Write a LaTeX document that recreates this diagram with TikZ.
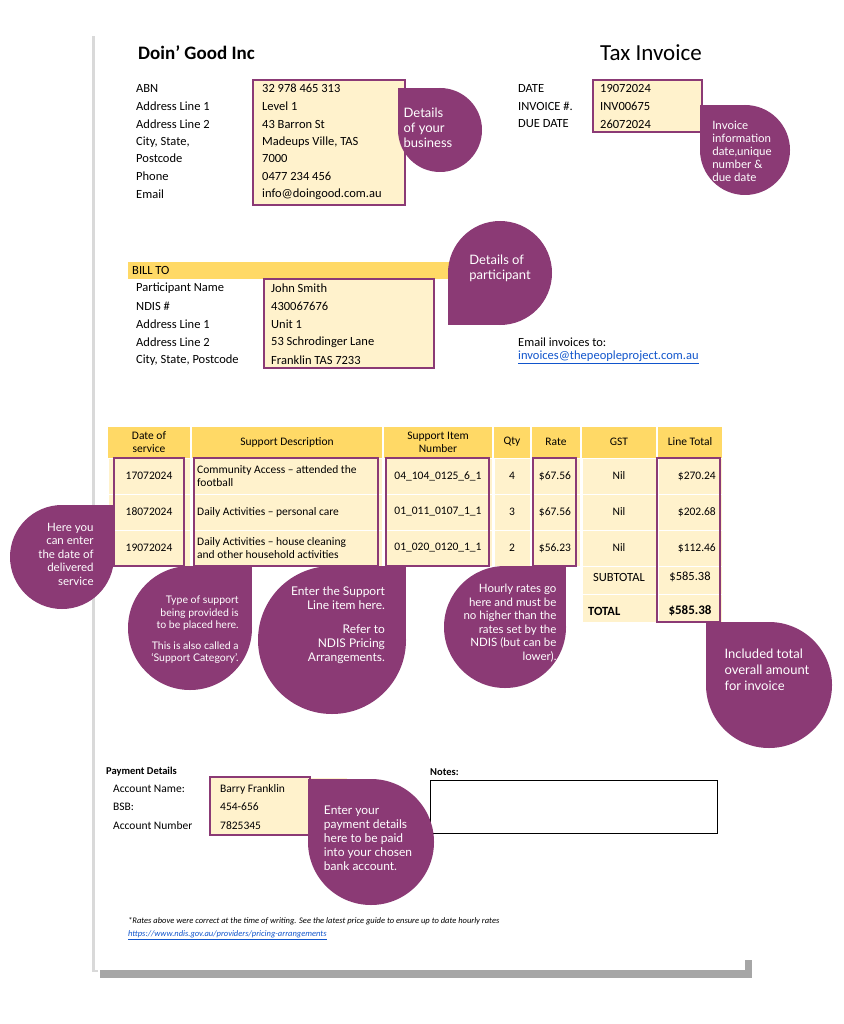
\documentclass[tikz,border=0pt]{standalone}
\usepackage{fontspec}
\setmainfont{Carlito}
\newfontfamily\bubfont{Lato}
\definecolor{pur}{HTML}{8B3A75}
\definecolor{lt}{HTML}{FFF2CC}
\definecolor{yl}{HTML}{FFD966}
\definecolor{lnk}{HTML}{1155CC}
\newcommand\bub[5]{% name cx cy r dir
 \fill[pur] (#2,#3) circle (#4);
 \fill[pur] (#2,#3) rectangle ++(#5);}
\begin{document}
\begin{tikzpicture}[x=1pt,y=-1pt,
 lb/.style={anchor=west,inner sep=0pt,font=\fontsize{12.5}{14}\selectfont},
 tb/.style={inner sep=0pt,font=\fontsize{11.5}{13}\selectfont,align=center},
 bt/.style={text=white,inner sep=0pt,font=\bubfont\fontsize{13}{15}\selectfont},
 pbox/.style={draw=pur,line width=1.6pt},
 cell/.style={fill=lt,draw=white,line width=0.6pt}]
\useasboundingbox (0,0) rectangle (843,1024);
\fill[white] (0,0) rectangle (843,1024);
% sheet with shadow
\fill[black!35] (100,960) rectangle (752,978);
\fill[black!15] (92,36) rectangle (98,972);
\fill[white] (95,30) rectangle (745,970);
% header
\node[anchor=west,inner sep=0pt,font=\fontsize{19}{22}\selectfont\bfseries] (co) at (138,53) {Doin’ Good Inc};
\node[anchor=east,inner sep=0pt,font=\fontsize{23}{26}\selectfont] (ti) at (702,53) {Tax Invoice};
% business
\fill[lt] (253,80) rectangle (405,205);
\foreach \y/\l in {88/ABN,106/Address Line 1,124/Address Line 2,142/{City, State,},158/Postcode,176/Phone/Mobile,194/Email}
  \node[lb] at (136,\y) {\l};
\foreach \y/\l in {88/32 978 465 313,106/Level 1,124/43 Barron St,142/{Madeups Ville, TAS},158/7000,176/0477 234 456,194/info@doingood.com.au}
  \node[lb] at (262,\y) {\l};
\draw[pbox] (253,80) rectangle (405,205);
% invoice info
\fill[lt] (593,80) rectangle (702,132);
\foreach \y/\l/\v in {88/DATE/19\/07\/2024,106/INVOICE \#./INV00675,124/DUE DATE/26\/07\/2024}{
  \node[lb] at (518,\y) {\l};
  \node[lb] at (600,\y) {\v};}
\draw[pbox] (593,80) rectangle (702,132);
% bill to
\fill[yl] (128,262) rectangle (470,279);
\node[lb] (billto) at (132,270) {BILL TO};
\fill[lt] (264,279) rectangle (434,368);
\foreach \y/\l/\v in {288/Participant Name/John Smith,306/NDIS \#/430067676,324/Address Line 1/Unit 1,342/Address Line 2/53 Schrodinger Lane,360/{City, State, Postcode}/Franklin TAS 7233}{
  \node[lb] at (136,\y) {\l};
  \node[lb] at (271,\y) {\v};}
\draw[pbox] (264,279) rectangle (434,368);
\node[lb] (em) at (518,342) {Email invoices to:};
\node[lb,text=lnk] (eml) at (518,357) {\underline{invoices@thepeopleproject.com.au}};
% table header
\foreach \a/\b/\t in {107/191/{Date of\\service},191/383/Support Description,383/493/{Support Item\\Number},493/531/Qty,531/581/Rate,581/657/GST,657/723/Line Total}{
  \fill[yl] (\a+1,427) rectangle (\b-1,458);
  \node[tb] at ({(\a+\b)/2},442) {\t};}
% rows
\foreach \a/\b in {107/191,191/383,383/493,493/531,531/581,581/657,657/723}
  \foreach \r in {458,494,530}
    \draw[cell] (\a+1,\r) rectangle (\b-1,\r+36);
\foreach \r in {566,594}{
  \draw[cell] (582,\r) rectangle (656,\r+28);
  \draw[cell] (658,\r) rectangle (722,\r+28);}
\foreach \y/\d/\s/\i/\q/\ra/\t in {476/17\/07\/2024/{Community Access -- attended the\\football}/04\_104\_0125\_6\_1/4/\$67.56/\$270.24,
 512/18\/07\/2024/{Daily Activities -- personal care}/01\_011\_0107\_1\_1/3/\$67.56/\$202.68,
 548/19\/07\/2024/{Daily Activities -- house cleaning\\and other household activities}/01\_020\_0120\_1\_1/2/\$56.23/\$112.46}{
  \node[tb] at (149,\y) {\d};
  \node[tb,anchor=west,align=left] at (197,\y) {\s};
  \node[tb] at (438,\y) {\i};
  \node[tb] at (512,\y) {\q};
  \node[tb] at (555,\y) {\ra};
  \node[tb] at (619,\y) {Nil};
  \node[tb,anchor=east] at (716,\y) {\t};}
\node[tb,font=\fontsize{12.5}{14}\selectfont] (sub) at (619,577) {SUBTOTAL};
\node[tb,font=\fontsize{12.5}{14}\selectfont] (subv) at (690,577) {\$585.38};
\node[tb,anchor=west,font=\fontsize{12.5}{14}\selectfont\bfseries] (tot) at (588,611) {TOTAL};
\node[tb,font=\fontsize{13}{14}\selectfont\bfseries] (totv) at (690,611) {\$585.38};
\draw[pbox] (114,458) rectangle (184,566);
\draw[pbox] (194,458) rectangle (378,566);
\draw[pbox] (386,458) rectangle (489,566);
\draw[pbox] (533,458) rectangle (576,566);
\draw[pbox] (657,458) rectangle (720,622);
% payment
\node[anchor=west,inner sep=0pt,font=\fontsize{10.5}{12}\selectfont\bfseries] (pd) at (106,772) {Payment Details};
\fill[lt] (210,778) rectangle (347,835);
\foreach \y/\l/\v in {789/Account Name:/Barry Franklin,807/BSB:/454-656,826/Account Number/7825345}{
  \node[lb,font=\fontsize{11.5}{13}\selectfont] at (113,\y) {\l};
  \node[lb,font=\fontsize{11.5}{13}\selectfont] at (220,\y) {\v};}
\draw[pbox] (210,777) rectangle (310,835);
\node[anchor=west,inner sep=0pt,font=\fontsize{10.5}{12}\selectfont\bfseries] (nt) at (430,772) {Notes:};
\draw[black,line width=0.8pt] (430,780) rectangle (717,833);
% footnote
\node[anchor=west,inner sep=0pt,font=\fontsize{8.5}{10}\selectfont\itshape] (fn) at (128,921) {*Rates above were correct at the time of writing. See the latest price guide to ensure up to date hourly rates};
\node[anchor=west,inner sep=0pt,text=lnk,font=\fontsize{8.5}{10}\selectfont\itshape] (fl) at (128,935) {\underline{https://www.ndis.gov.au/providers/pricing-arrangements}};
% bubbles
\bub{b1}{440}{130}{42}{-42,-42}
\node[bt,align=left] (t1) at (428,128) {Details\\of your\\business};
\bub{b2}{745}{150}{45}{-45,-45}
\node[bt,align=left,font=\bubfont\fontsize{11.5}{13}\selectfont] (t2) at (742,151) {Invoice\\information\\date,unique\\number \&\\due date};
\bub{b3}{500}{273}{52}{-52,52}
\node[bt,align=left] (t3) at (500,268) {Details of\\participant};
\bub{b4}{62}{557}{52}{52,-52}
\node[bt,align=right,font=\bubfont\fontsize{11.5}{13.5}\selectfont] (t4) at (66,554) {Here you\\can enter\\the date of\\delivered\\service};
\bub{b5}{190}{628}{62}{62,-62}
\node[bt,align=right,font=\bubfont\fontsize{10.5}{12.5}\selectfont] (t5) at (195,630) {Type of support\\being provided is\\to be placed here.\\[8pt]This is also called a\\‘Support Category’.};
\bub{b6}{332}{640}{74}{74,-74}
\node[bt,align=right,font=\bubfont\fontsize{12}{14}\selectfont] (t6) at (338,625) {Enter the Support\\Line item here.\\[10pt]Refer to\\NDIS Pricing\\Arrangements.};
\bub{b7}{505}{627}{61}{61,-61}
\node[bt,align=right,font=\bubfont\fontsize{11.5}{13.5}\selectfont] (t7) at (510,623) {Hourly rates go\\here and must be\\no higher than the\\rates set by the\\NDIS (but can be\\lower).};
\bub{b8}{769}{685}{63}{-63,-63}
\node[bt,align=left,font=\bubfont\fontsize{13}{16}\selectfont] (t8) at (767,670) {Included total\\overall amount\\for invoice};
\bub{b9}{371}{842}{63}{-63,-63}
\node[bt,align=left,font=\bubfont\fontsize{12}{14}\selectfont] (t9) at (368,838) {Enter your\\payment details\\here to be paid\\into your chosen\\bank account.};
\end{tikzpicture}
\end{document}
